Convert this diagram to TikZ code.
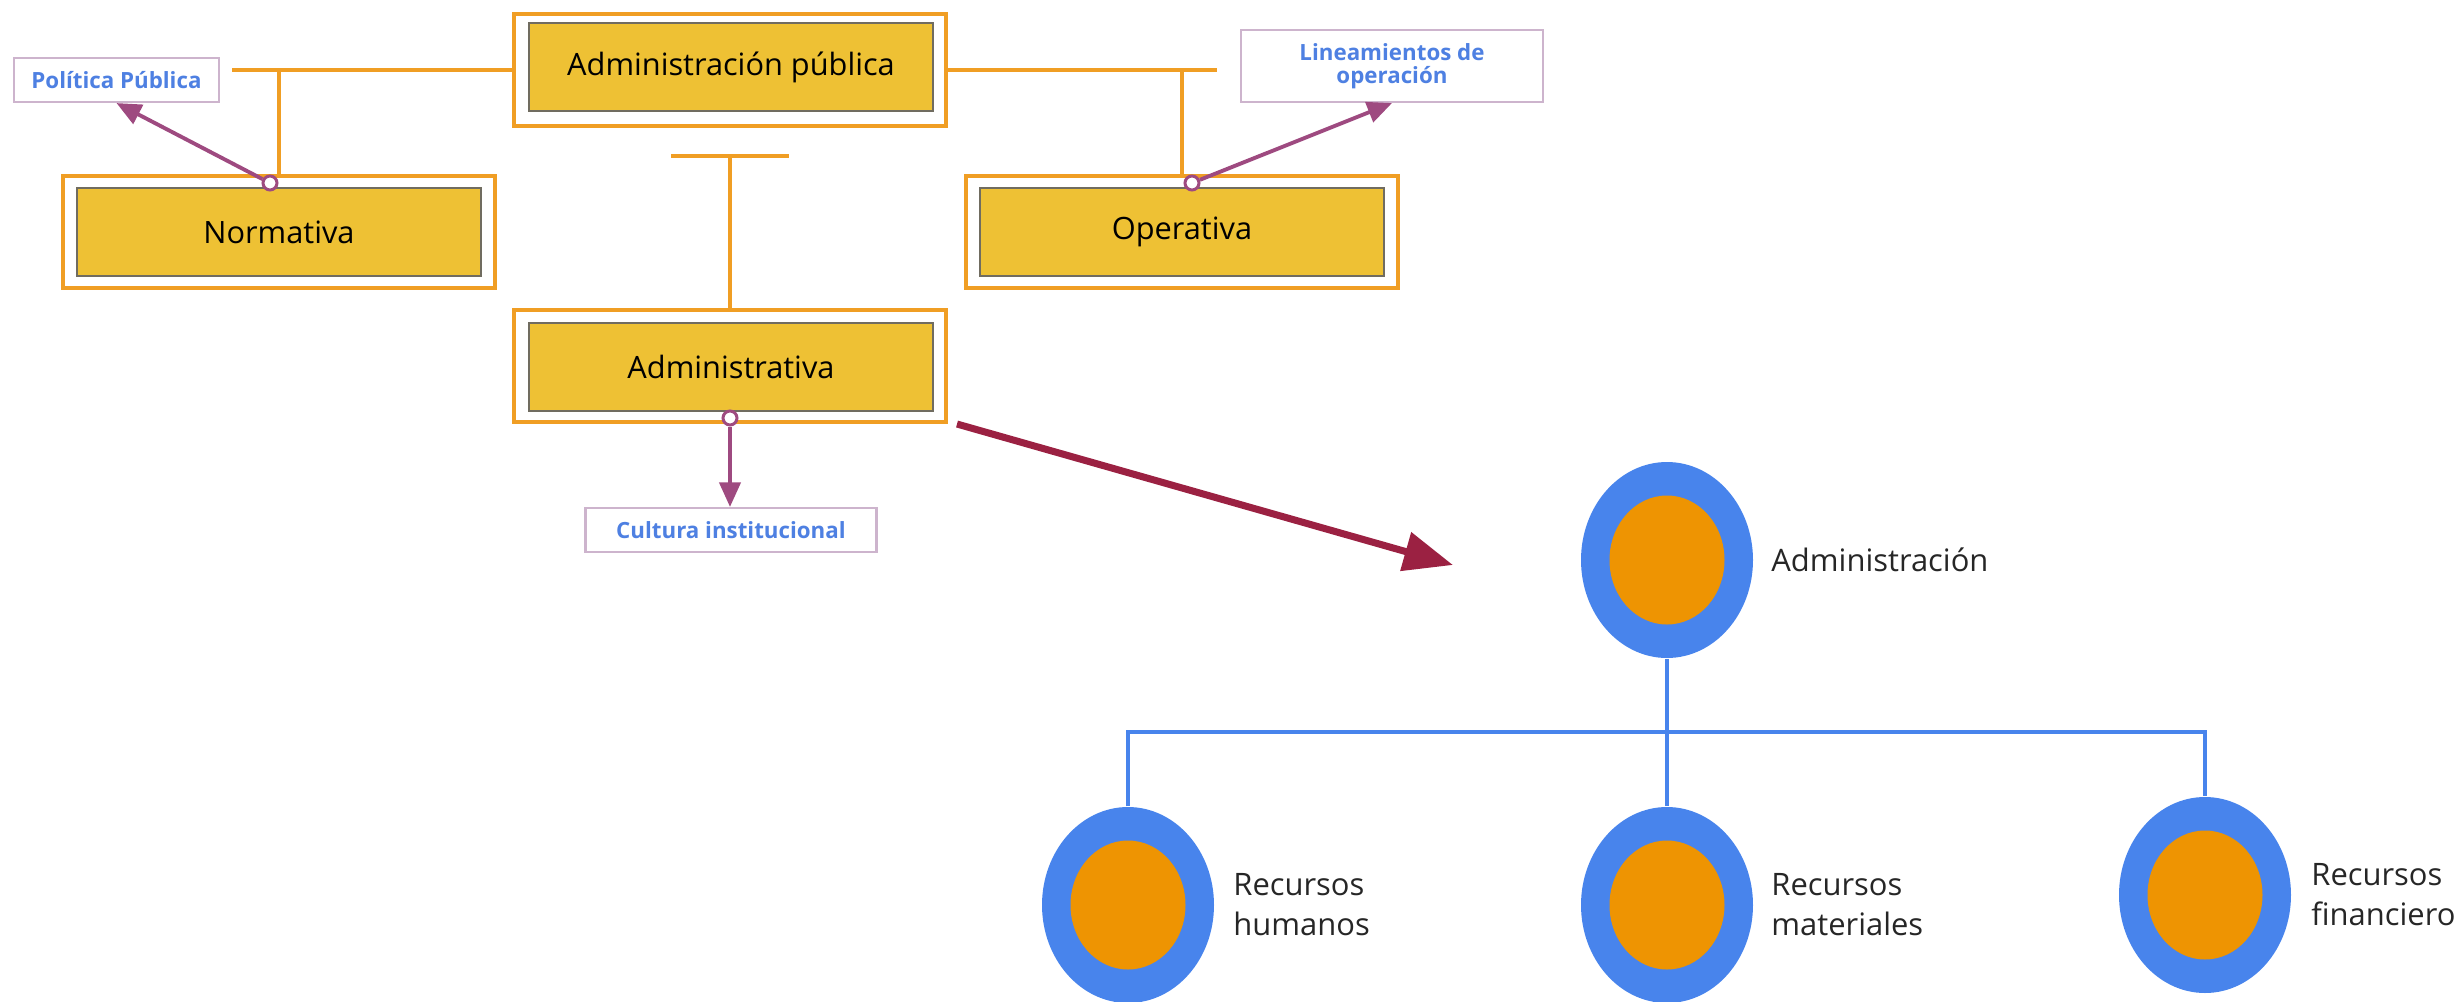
\documentclass[tikz,border=0pt]{standalone}
\usepackage{fontspec}
\setmainfont{Open Sans}
\usetikzlibrary{arrows.meta, shapes.geometric, positioning}

\definecolor{boxorange}{RGB}{240,158,36}
\definecolor{boxgold}{RGB}{238,193,52}
\definecolor{boxgray}{RGB}{112,108,96}
\definecolor{linkpurple}{RGB}{158,74,128}
\definecolor{tagline}{RGB}{205,180,205}
\definecolor{tagblue}{RGB}{78,128,226}
\definecolor{bigred}{RGB}{155,33,66}
\definecolor{ringblue}{RGB}{72,132,236}
\definecolor{coreorange}{RGB}{238,148,2}

\begin{document}
\begin{tikzpicture}

\tikzset{frame/.style = {draw=boxorange, line width=1.15pt, minimum width=4.32cm, minimum height=1.12cm, inner sep=0}}
\tikzset{area/.style = {draw=boxgray, line width=0.4pt, fill=boxgold, minimum width=4.04cm, minimum height=0.88cm, font=\fontsize{8.75}{10.5}\selectfont}}
\tikzset{tag/.style = {draw=tagline, line width=0.6pt, fill=white, text=tagblue, font=\bfseries\fontsize{6.35}{6.7}\selectfont, align=center, inner sep=0}}
\tikzset{knob/.style = {shape=circle, draw=linkpurple, line width=0.85pt, fill=white, minimum size=0.14cm, inner sep=0}}
\tikzset{link/.style = {draw=boxorange, line width=1.15pt}}
\tikzset{edge/.style = {draw=linkpurple, line width=1.1pt, -{Triangle[length=7pt,width=6pt]}}}
\tikzset{bigarrow/.style = {draw=bigred, line width=2pt, -{Triangle[length=14pt,width=11pt]}}}
\tikzset{ring/.style = {shape=ellipse, fill=ringblue, minimum width=1.72cm, minimum height=1.96cm, inner sep=0}}
\tikzset{core/.style = {shape=ellipse, fill=coreorange, minimum width=1.15cm, minimum height=1.29cm, inner sep=0}}
\tikzset{caption/.style = {align=left, inner sep=0, text=black!85, font=\fontsize{8.8}{11.4}\selectfont}}
\tikzset{branch/.style = {draw=ringblue, line width=1.1pt}}

\useasboundingbox (0,0) rectangle (24.58,-10.01);

%boxes
\node[frame] (ap-f) at (7.30,-0.70) {};
\node[area] (ap) at (7.31,-0.67) {Administración pública};
\node[frame] (nor-f) at (2.79,-2.32) {};
\node[area] (nor) at (2.79,-2.32) {Normativa};
\node[frame] (ope-f) at (11.82,-2.32) {};
\node[area] (ope) at (11.82,-2.32) {Operativa};
\node[frame] (adm-f) at (7.30,-3.66) {};
\node[area] (adm) at (7.31,-3.67) {Administrativa};

%tags
\node[tag, minimum width=2.05cm, minimum height=0.44cm] (pol) at (1.165,-0.80) {Política Pública};
\node[tag, minimum width=3.02cm, minimum height=0.72cm] (lin) at (13.92,-0.66) {Lineamientos de\\operación};
\node[tag, minimum width=2.91cm, minimum height=0.44cm] (cul) at (7.31,-5.30) {Cultura institucional};

%orange links
\coordinate (l-end) at (2.32,-0.70);
\coordinate (r-end) at (12.17,-0.70);
\coordinate (t-l) at (6.71,-1.56);
\coordinate (t-r) at (7.89,-1.56);
\draw[link] (l-end) -- (ap-f.west);
\draw[link] (nor-f.north |- l-end) -- (nor-f.north);
\draw[link] (ap-f.east) -- (r-end);
\draw[link] (ope-f.north |- r-end) -- (ope-f.north);
\draw[link] (t-l) -- (t-r);
\draw[link] (adm-f.north |- t-l) -- (adm-f.north);

%purple edges
\node[knob] (nor-k) at (2.70,-1.83) {};
\node[knob] (ope-k) at (11.92,-1.83) {};
\node[knob] (adm-k) at (7.30,-4.18) {};
\draw[edge] (nor-k) -- (pol.south);
\draw[edge] (ope-k) -- (lin.south);
\draw[edge] (adm-k) -- (adm-k |- cul.north);

%big arrow
\coordinate (tip) at (14.53,-5.65);
\draw[bigarrow] ([xshift=0.09cm]adm-f.south east) -- (tip);

%rings
\node[ring] (top) at (16.67,-5.60) {};
\node[core] (top-c) at (16.67,-5.60) {};
\node[ring] (hum) at (11.28,-9.05) {};
\node[core] (hum-c) at (11.28,-9.05) {};
\node[ring] (mat) at (16.67,-9.05) {};
\node[core] (mat-c) at (16.67,-9.05) {};
\node[ring] (fin) at (22.05,-8.95) {};
\node[core] (fin-c) at (22.05,-8.95) {};

%captions
\node[caption, right=0.17 of top] (top-t) {Administración};
\node[caption, right=0.18 of hum] (hum-t) {Recursos\\humanos};
\node[caption, right=0.17 of mat] (mat-t) {Recursos\\materiales};
\node[caption, right=0.19 of fin] (fin-t) {Recursos\\financiero};

%branches
\coordinate (bar) at (16.67,-7.32);
\draw[branch] (top) -- (mat);
\draw[branch] (hum.north) |- (bar) -| (fin.north);

\end{tikzpicture}
\end{document}
